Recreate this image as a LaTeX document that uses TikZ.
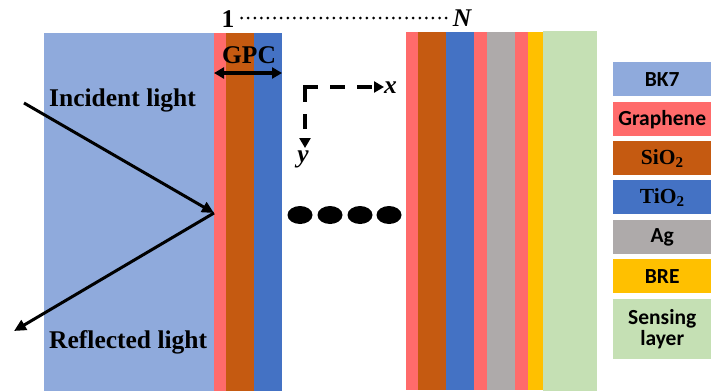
\documentclass[tikz,border=0pt]{standalone}
\usepackage{fontspec}
\setmainfont{Liberation Serif}
\newfontfamily\legendfont{Carlito}
\newfontfamily\formulafont{Liberation Serif}
\usetikzlibrary{arrows.meta}

\definecolor{bkseven}{HTML}{8FAADC}
\definecolor{graphene}{HTML}{FF6B6B}
\definecolor{silica}{HTML}{C55A11}
\definecolor{titania}{HTML}{4472C4}
\definecolor{silver}{HTML}{AEAAAA}
\definecolor{bre}{HTML}{FFC000}
\definecolor{sensing}{HTML}{C5E0B4}

\tikzset{
  ray/.style={line width=3pt, -{Triangle[length=12pt,width=11pt]}},
  axis/.style={line width=3.2pt, dash pattern=on 15pt off 12pt, -{Triangle[length=10pt,width=11pt]}},
  lbl/.style={inner sep=0pt, font=\bfseries\fontsize{25.5}{28}\selectfont},
  legbox/.style={minimum width=98pt, minimum height=34pt, inner sep=0pt, anchor=north west,
    font=\legendfont\bfseries\fontsize{21.5}{21}\selectfont, align=center},
}

\begin{document}
\begin{tikzpicture}[x=1pt, y=-1pt]
\useasboundingbox (0,0) rectangle (711,391);

% left substrate and first GPC
\fill[bkseven]  (44,33) rectangle (214,391);
\fill[graphene] (214,33) rectangle (226,391);
\fill[silica]   (226,33) rectangle (254,391);
\fill[titania]  (254,33) rectangle (282,391);

% N-th GPC, metal, BRE and sensing layer
\fill[graphene] (406,32) rectangle (418,390);
\fill[silica]   (418,32) rectangle (446,390);
\fill[titania]  (446,32) rectangle (474,390);
\fill[graphene] (474,32) rectangle (487,390);
\fill[silver]   (487,32) rectangle (515,390);
\fill[graphene] (515,32) rectangle (528,390);
\fill[bre]      (528,32) rectangle (543,390);
\fill[sensing]  (543,31) rectangle (597,391);

% period labels
\node[lbl, anchor=base] (one) at (228,27) {1};
\node[lbl, anchor=base] (nN) at (462,26) {\itshape N};
\draw[line width=3pt, line cap=round, dash pattern=on 0pt off 6.6pt]
  ([xshift=7pt,yshift=9pt]one.base east) coordinate (ds) -- ([xshift=-5pt,yshift=8pt]nN.base west) coordinate (de);

% GPC span
\node[lbl, anchor=base] (gpc) at (249,63) {GPC};
\coordinate (gl) at (214,73);
\coordinate (gr) at (282,73);
\draw[line width=3.2pt, {Triangle[length=10pt,width=11pt]}-{Triangle[length=10pt,width=11pt]}] (gl) -- (gr);

% light rays
\node[lbl, anchor=base west] (inc) at (49,106) {Incident light};
\node[lbl, anchor=base west] (refl) at (49,348) {Reflected light};
\coordinate (src) at (24,103);
\coordinate (hit) at (214,213);
\coordinate (out) at (14,331);
\draw[ray] (src) -- (hit);
\draw[ray] (hit) -- (out);

% coordinate axes
\coordinate (org) at (305,87);
\coordinate (xend) at (384,87);
\coordinate (yend) at (305,148);
\draw[axis, line cap=butt] ([xshift=-1.6pt]org) -- (xend);
\draw[axis, line cap=butt] (org) -- (yend);
\node[lbl, anchor=base west] (xl) at (384,93) {\itshape x};
\node[lbl, anchor=base] (yl) at (303,162) {\itshape y};

% repeated periods
\foreach \cx/\nm in {300/d1,330/d2,360/d3,389/d4}
  \fill (\cx,215) coordinate (\nm) ellipse (12.5pt and 9pt);

% legend
\node[legbox, fill=bkseven]  (lg1) at (613,62)  {BK7};
\node[legbox, fill=graphene] (lg2) at (613,102) {Graphene};
\node[legbox, fill=silica]   (lg3) at (613,141) {\formulafont\bfseries SiO\textsubscript{2}};
\node[legbox, fill=titania]  (lg4) at (613,180) {\formulafont\bfseries TiO\textsubscript{2}};
\node[legbox, fill=silver]   (lg5) at (613,220) {Ag};
\node[legbox, fill=bre]      (lg6) at (613,259) {BRE};
\node[legbox, fill=sensing, minimum height=60pt] (lg7) at (613,299) {Sensing\\layer};
\end{tikzpicture}
\end{document}
